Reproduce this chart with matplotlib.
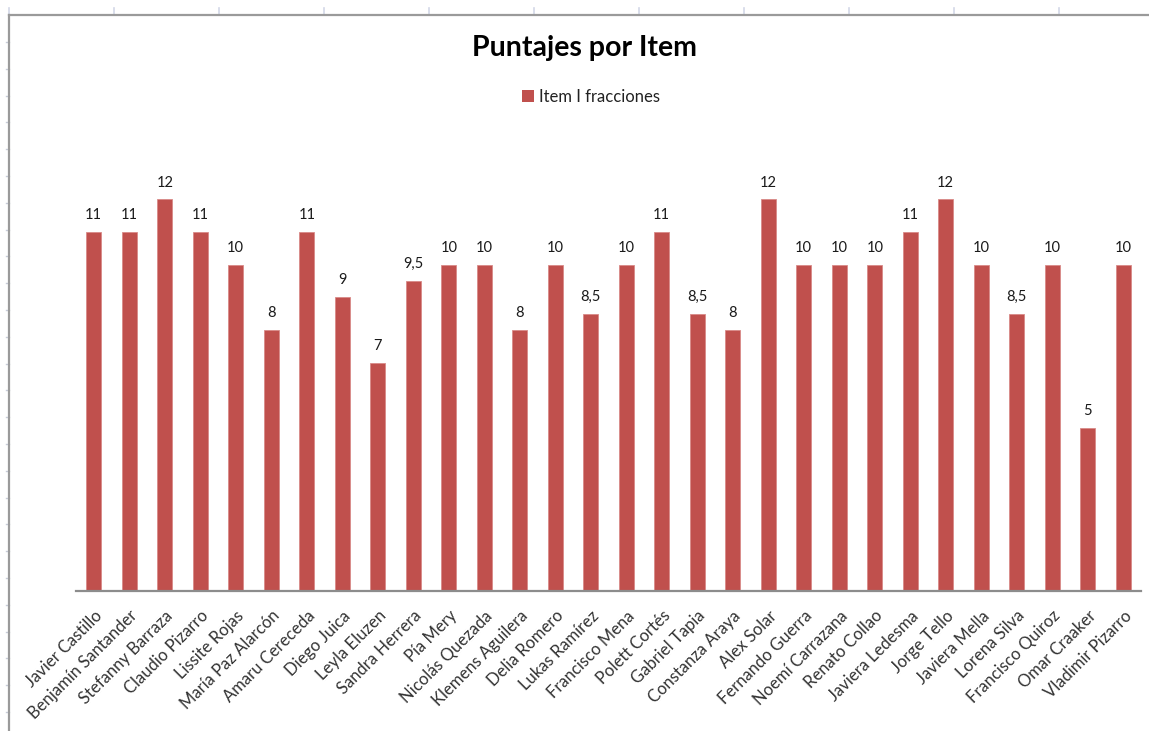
import matplotlib.pyplot as plt
from matplotlib.lines import Line2D
from matplotlib.patches import Patch

alumnos = [
    "Javier Castillo", "Benjamín Santander", "Stefanny Barraza", "Claudio Pizarro",
    "Lissite Rojas", "María Paz Alarcón", "Amaru Cereceda", "Diego Juica",
    "Leyla Eluzen", "Sandra Herrera", "Pía Mery", "Nicolás Quezada",
    "Klemens Aguilera", "Delia Romero", "Lukas Ramírez", "Francisco Mena",
    "Polett Cortés", "Gabriel Tapia", "Constanza Araya", "Alex Solar",
    "Fernando Guerra", "Noemí Carrazana", "Renato Collao", "Javiera Ledesma",
    "Jorge Tello", "Javiera Mella", "Lorena Silva", "Francisco Quiroz",
    "Omar Craaker", "Vladimir Pizarro",
]
puntajes = [11, 11, 12, 11, 10, 8, 11, 9, 7, 9.5, 10, 10, 8, 10, 8.5, 10,
            11, 8.5, 8, 12, 10, 10, 10, 11, 12, 10, 8.5, 10, 5, 10]
serie = "Item I fracciones"
titulo = "Puntajes por Item"

ROJO = "#C0504D"
FUENTE = ["Lato", "DejaVu Sans"]
plt.rcParams["font.family"] = FUENTE

W, H = 1149, 731
fig = plt.figure(figsize=(W / 100, H / 100), dpi=100)
fig.patch.set_facecolor("white")

# spreadsheet cell marks and chart border
for x in range(9, W, 105):
    fig.add_artist(Line2D([x / W, x / W], [1 - 8 / H, 1 - 14 / H], color="#d3d8e8", lw=1.2))
y = 42
while y < H:
    fig.add_artist(Line2D([6 / W, 9 / W], [1 - y / H, 1 - y / H], color="#c8ccd8", lw=1))
    y += 26.8
fig.add_artist(Line2D([9 / W, 1], [1 - 15 / H, 1 - 15 / H], color="#9a9a9a", lw=1.6))
fig.add_artist(Line2D([9 / W, 9 / W], [0, 1 - 15 / H], color="#9a9a9a", lw=1.6))

ax = fig.add_axes([76 / W, 1 - 591 / H, (1141 - 76) / W, (591 - 134) / H])
pos = range(len(alumnos))
barras = ax.bar(pos, puntajes, width=0.42, color=ROJO, edgecolor="#d98a88", linewidth=0.6)

for b, v in zip(barras, puntajes):
    txt = f"{v:g}".replace(".", ",")
    ax.annotate(txt, (b.get_x() + b.get_width() / 2, v), xytext=(0, 7),
                textcoords="offset points", ha="center", va="bottom",
                fontsize=10.5, color="#1a1a1a")

ax.set_xlim(-0.5, len(alumnos) - 0.5)
ax.set_ylim(0, 14)
ax.set_yticks([])
ax.set_xticks(list(pos))
ax.set_xticklabels(alumnos, rotation=45, ha="right", rotation_mode="anchor",
                   fontsize=12, color="#333333")
ax.tick_params(axis="x", length=0, pad=12)
for s in ("top", "right", "left"):
    ax.spines[s].set_visible(False)
ax.spines["bottom"].set_color("#8c8c8c")
ax.spines["bottom"].set_linewidth(1.6)

fig.text(585 / W, 1 - 48 / H, titulo, ha="center", va="center",
         fontsize=20.5, fontweight="bold", color="black")
fig.legend(handles=[Patch(facecolor=ROJO, edgecolor="none")], labels=[serie],
           loc="center", bbox_to_anchor=(591 / W, 1 - 97 / H), frameon=False,
           fontsize=12, handlelength=0.7, handleheight=0.7, handletextpad=0.3,
           labelcolor="#222222")

fig.savefig("out.png", dpi=100)
